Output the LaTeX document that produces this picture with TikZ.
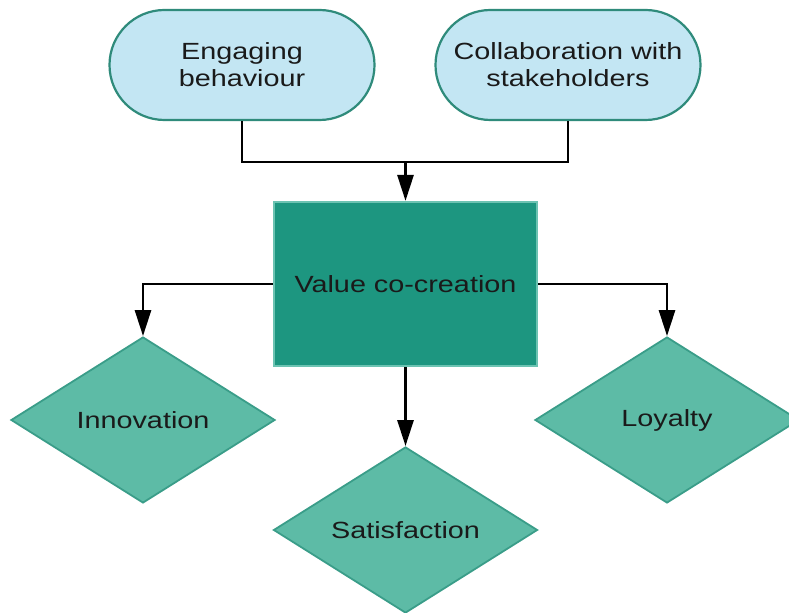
\documentclass[tikz,border=0pt]{standalone}
\usepackage{fontspec}
\setmainfont{Liberation Sans}[FakeStretch=1.23]
\usetikzlibrary{arrows.meta, shapes.geometric, shapes.misc}
\definecolor{pillfill}{HTML}{C3E6F3}
\definecolor{pillline}{HTML}{2F8B7B}
\definecolor{hubfill}{HTML}{1D9680}
\definecolor{hubline}{HTML}{6CC3B2}
\definecolor{outfill}{HTML}{5DBBA6}
\definecolor{outline}{HTML}{3A9D89}
\definecolor{ink}{HTML}{1A1A1A}

\begin{document}
\begin{tikzpicture}[x=1bp, y=1bp, >={Triangle[length=26bp, width=16bp]},
	font=\fontsize{23.5}{27}\selectfont,
	pill/.style={rounded rectangle, draw=pillline, line width=2.2bp, fill=pillfill,
		minimum width=265bp, minimum height=110bp, inner sep=0pt, align=center, text=ink},
	hub/.style={rectangle, draw=hubline, line width=2.2bp, fill=hubfill,
		minimum width=263bp, minimum height=164bp, text=ink},
	outcome/.style={diamond, draw=outline, line width=1.8bp, fill=outfill,
		minimum width=264bp, minimum height=166bp, inner sep=0pt, text=ink},
	link/.style={line width=2.8bp}]

\useasboundingbox (0,0) rectangle (789,613);

%========================
% Top: drivers
%========================
\node[pill] (engage) at (242,548) {Engaging\\behaviour};
\node[pill] (collab) at (568,548) {Collaboration with\\stakeholders};

%========================
% Middle: value co-creation
%========================
\node[hub] (value) at (405.5,329) {Value co-creation};
\coordinate (merge) at (405.5,451);

% joining lines
\draw[link] (engage.south) |- (merge);
\draw[link] (collab.south) |- (merge);
\draw[link,->] (merge) -- (value.north);

%========================
% Bottom: outcomes
%========================
\node[outcome] (innov) at (143,193) {Innovation};
\node[outcome] (loyal) at (667,193) {Loyalty};
\node[outcome] (satis) at (405.5,83) {Satisfaction};

\draw[link,->] (value.west) -| (innov.north);
\draw[link,->] (value.east) -| (loyal.north);
\draw[link,->] (value.south) -- (satis.north);

\end{tikzpicture}
\end{document}
